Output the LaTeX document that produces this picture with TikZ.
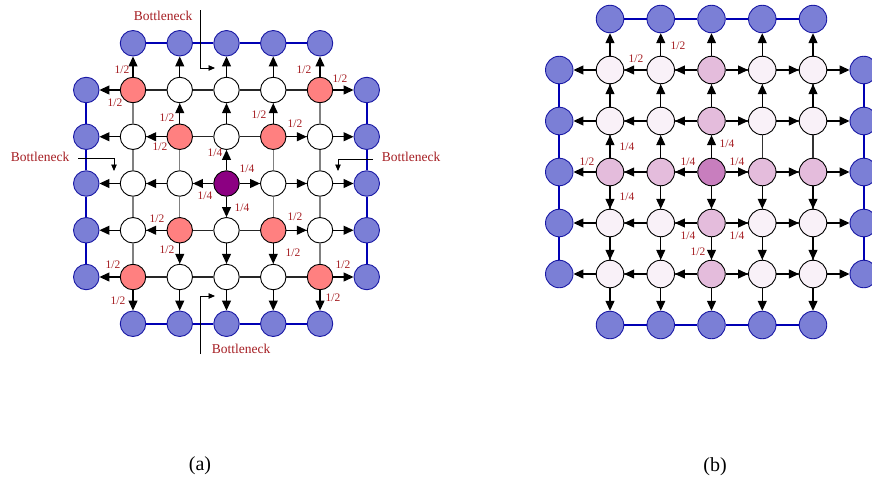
\documentclass[tikz,border=0pt]{standalone}
\usepackage{fontspec}
\setmainfont{Liberation Serif}
\usetikzlibrary{arrows.meta}

\definecolor{lbl}{RGB}{165,30,35}
\definecolor{sinkfill}{RGB}{123,127,214}
\definecolor{sinkdraw}{RGB}{25,25,165}
\definecolor{sinkline}{RGB}{0,0,180}
\definecolor{hot}{RGB}{255,128,128}
\definecolor{src}{RGB}{140,0,130}
\definecolor{srcb}{RGB}{200,126,190}
\definecolor{midb}{RGB}{228,188,220}
\definecolor{lowb}{RGB}{249,241,248}

\begin{document}
\begin{tikzpicture}[x=1pt,y=-1pt,
  cell/.style={circle,draw=black,line width=0.9pt,inner sep=0pt},
  cellA/.style={cell,minimum size=25.5pt},
  cellB/.style={cell,minimum size=27.5pt},
  sinkA/.style={circle,draw=sinkdraw,fill=sinkfill,line width=0.9pt,inner sep=0pt,minimum size=25.5pt},
  sinkB/.style={sinkA,minimum size=27.5pt},
  rim/.style={draw=sinkline,line width=2.4pt},
  link/.style={line width=1.2pt},
  flow/.style={-{Triangle[length=10pt,width=9pt]},line width=1.2pt,draw=black},
  prob/.style={text=lbl,font=\fontsize{11.5}{13}\selectfont,inner sep=0pt},
  neck/.style={text=lbl,font=\fontsize{13.5}{15}\selectfont,inner sep=0pt},
  pointer/.style={-{Triangle[length=6.5pt,width=5.5pt]},line width=0.9pt},
  caption/.style={font=\fontsize{20}{24}\selectfont,inner sep=0pt}
]
\useasboundingbox (0,0) rectangle (872,479);

% ---------------- (a) ----------------
\foreach \i in {1,...,5}{
  \foreach \j in {1,...,5}{
    \pgfmathtruncatemacro\diag{(\i==\j)||(\i+\j==6)}
    \ifnum\diag=1 \def\fc{hot}\else\def\fc{white}\fi
    \ifnum\i=3 \ifnum\j=3 \def\fc{src}\fi\fi
    \node[cellA,fill=\fc] (a\i\j) at ({133+46.75*(\i-1)},{90+46.75*(\j-1)}) {};
  }
  \node[sinkA] (at\i) at ({133+46.75*(\i-1)},43.25) {};
  \node[sinkA] (ab\i) at ({133+46.75*(\i-1)},323.75) {};
  \node[sinkA] (al\i) at (86.25,{90+46.75*(\i-1)}) {};
  \node[sinkA] (ar\i) at (366.75,{90+46.75*(\i-1)}) {};
}
\foreach \i [evaluate=\i as \k using int(\i+1)] in {1,...,4}{
  \draw[rim] (at\i) -- (at\k);
  \draw[rim] (ab\i) -- (ab\k);
  \draw[rim] (al\i) -- (al\k);
  \draw[rim] (ar\i) -- (ar\k);
  \foreach \j in {1,...,5}{
    \draw[link,black!85] (a\i\j) -- (a\k\j);
    \draw[link,black!50] (a\j\i) -- (a\j\k);
  }
}
\foreach \i in {1,...,5}{
  \draw[flow] (a\i1) -- (at\i);
  \draw[flow] (a\i5) -- (ab\i);
  \draw[flow] (a1\i) -- (al\i);
  \draw[flow] (a5\i) -- (ar\i);
}
\foreach \s/\t in {a22/a21,a22/a12,a32/a31,a33/a32,a42/a41,a42/a52,
                   a23/a13,a33/a23,a43/a53,a33/a43,
                   a24/a14,a24/a25,a34/a35,a33/a34,a44/a54,a44/a45}
  \draw[flow] (\s) -- (\t);

\foreach \x/\y/\t in {122/70/1\slash2, 115/103/1\slash2, 167/118/1\slash2, 160/147/1\slash2,
                      304/70/1\slash2, 340/79/1\slash2, 259/115/1\slash2, 295/124/1\slash2,
                      215/153/1\slash4, 247/169/1\slash4, 205/196/1\slash4, 242/208/1\slash4,
                      157/219/1\slash2, 167/250/1\slash2, 295/217/1\slash2, 293/253/1\slash2,
                      113/265/1\slash2, 118/301/1\slash2, 343/265/1\slash2, 333/298/1\slash2}
  \node[prob] at (\x,\y) {\t};

% bottleneck markers
\node[neck] (nt) at (163,16) {Bottleneck};
\node[neck] (nl) at (40,157) {Bottleneck};
\node[neck] (nr) at (411,157) {Bottleneck};
\node[neck] (nb) at (241,349) {Bottleneck};
\coordinate (ntA) at (200,10);  \coordinate (ntB) at (215,68);
\coordinate (nlA) at (78,158);  \coordinate (nlB) at (114,171);
\coordinate (nrA) at (373,159); \coordinate (nrB) at (338,171);
\coordinate (nbA) at (200,354); \coordinate (nbB) at (215,296);
\draw[pointer] (ntA) |- (ntB);
\draw[pointer] (nlA) -| (nlB);
\draw[pointer] (nrA) -| (nrB);
\draw[pointer] (nbA) |- (nbB);

\node[caption] (capa) at (200,466) {(a)};

% ---------------- (b) ----------------
\foreach \i in {1,...,5}{
  \foreach \j in {1,...,5}{
    \def\fc{lowb}
    \ifnum\i=3 \def\fc{midb}\fi
    \ifnum\j=3 \def\fc{midb}\fi
    \ifnum\i=3 \ifnum\j=3 \def\fc{srcb}\fi\fi
    \node[cellB,fill=\fc] (b\i\j) at ({610+50.75*(\i-1)},{70+51*(\j-1)}) {};
  }
  \node[sinkB] (bt\i) at ({610+50.75*(\i-1)},19) {};
  \node[sinkB] (bb\i) at ({610+50.75*(\i-1)},325) {};
  \node[sinkB] (bl\i) at (559.25,{70+51*(\i-1)}) {};
  \node[sinkB] (br\i) at (863.75,{70+51*(\i-1)}) {};
}
\foreach \i [evaluate=\i as \k using int(\i+1)] in {1,...,4}{
  \draw[rim] (bt\i) -- (bt\k);
  \draw[rim] (bb\i) -- (bb\k);
  \draw[rim] (bl\i) -- (bl\k);
  \draw[rim] (br\i) -- (br\k);
  \foreach \j in {1,...,5}{
    \draw[link,black!80] (b\i\j) -- (b\k\j);
    \draw[link,black!80] (b\j\i) -- (b\j\k);
  }
}
\foreach \i in {1,...,5}{
  \draw[flow] (b\i1) -- (bt\i);
  \draw[flow] (b\i5) -- (bb\i);
  \draw[flow] (b1\i) -- (bl\i);
  \draw[flow] (b5\i) -- (br\i);
  \draw[flow] (b3\i) -- (b2\i);
  \draw[flow] (b2\i) -- (b1\i);
  \draw[flow] (b3\i) -- (b4\i);
  \draw[flow] (b4\i) -- (b5\i);
  \draw[flow] (b\i2) -- (b\i1);
  \draw[flow] (b\i3) -- (b\i4);
  \draw[flow] (b\i4) -- (b\i5);
}
\foreach \i in {1,2,3}
  \draw[flow] (b\i3) -- (b\i2);

\foreach \x/\y/\t in {636/59/1\slash2, 678/46/1\slash2, 627/147/1\slash4, 587/162/1\slash2,
                      688/162/1\slash4, 727/144/1\slash4, 737/162/1\slash4,
                      627/197/1\slash4, 688/236/1\slash4, 737/236/1\slash4, 698/252/1\slash2}
  \node[prob] at (\x,\y) {\t};

\node[caption] (capb) at (715,467) {(b)};
\end{tikzpicture}
\end{document}
